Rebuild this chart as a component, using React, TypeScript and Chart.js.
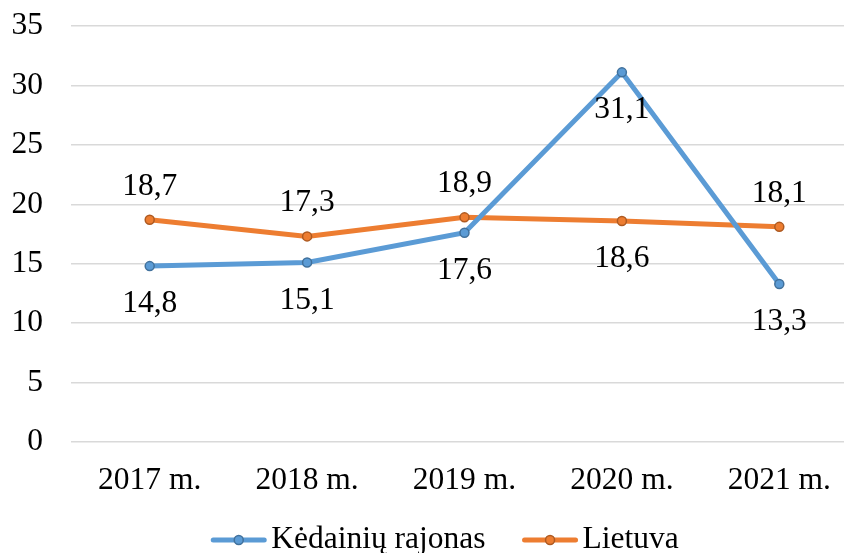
import React, { useEffect, useRef } from "react";
import { Chart, registerables } from "chart.js";

Chart.register(...registerables);

const categories = ["2017 m.", "2018 m.", "2019 m.", "2020 m.", "2021 m."];
const seriesNames = ["Kėdainių rajonas", "Lietuva"];
const kedainiaiValues = [14.8, 15.1, 17.6, 31.1, 13.3];
const lietuvaValues = [18.7, 17.3, 18.9, 18.6, 18.1];
const kedainiaiLabelPos = ["below", "below", "below", "below", "below"];
const lietuvaLabelPos = ["above", "above", "above", "below", "above"];
const yTicks = [0, 5, 10, 15, 20, 25, 30, 35];

const FONT_FAMILY = "'Liberation Serif', 'Times New Roman', serif";
const FONT_SIZE = 31.5;
const BLUE = "#5B9BD5";
const BLUE_DARK = "#41719C";
const ORANGE = "#ED7D31";
const ORANGE_DARK = "#AE5A21";

const fmt = (v: number) => v.toFixed(1).replace(".", ",");

const dataLabelPlugin = {
  id: "dataLabels",
  afterDatasetsDraw(chart: any) {
    const ctx = chart.ctx;
    const positions = [kedainiaiLabelPos, lietuvaLabelPos];
    ctx.save();
    ctx.font = `${FONT_SIZE}px ${FONT_FAMILY}`;
    ctx.fillStyle = "#000";
    ctx.textAlign = "center";
    ctx.textBaseline = "alphabetic";
    chart.data.datasets.forEach((ds: any, di: number) => {
      const meta = chart.getDatasetMeta(di);
      meta.data.forEach((pt: any, i: number) => {
        const pos = positions[di][i];
        const y = pos === "below" ? pt.y + 46 : pt.y - 25;
        ctx.fillText(fmt(ds.data[i]), pt.x, y);
      });
    });
    ctx.restore();
  },
};

const legendPlugin = {
  id: "customLegend",
  afterDraw(chart: any) {
    const ctx = chart.ctx;
    const colors = [
      [BLUE, BLUE_DARK],
      [ORANGE, ORANGE_DARK],
    ];
    ctx.save();
    ctx.font = `${FONT_SIZE}px ${FONT_FAMILY}`;
    const sampleW = 55;
    const textGap = 5;
    const itemGap = 37;
    const widths = seriesNames.map((n) => sampleW + textGap + ctx.measureText(n).width);
    const total = widths.reduce((a, b) => a + b, 0) + itemGap * (seriesNames.length - 1);
    let x = 445 - total / 2;
    const y = 540;
    seriesNames.forEach((name, i) => {
      const [c, d] = colors[i];
      ctx.strokeStyle = c;
      ctx.lineWidth = 5;
      ctx.lineCap = "round";
      ctx.beginPath();
      ctx.moveTo(x + 2, y);
      ctx.lineTo(x + sampleW - 2, y);
      ctx.stroke();
      ctx.beginPath();
      ctx.arc(x + sampleW / 2, y, 4.5, 0, Math.PI * 2);
      ctx.fillStyle = c;
      ctx.fill();
      ctx.lineWidth = 1.5;
      ctx.strokeStyle = d;
      ctx.stroke();
      ctx.fillStyle = "#000";
      ctx.textAlign = "left";
      ctx.textBaseline = "alphabetic";
      ctx.fillText(name, x + sampleW + textGap, y + 8);
      x += widths[i] + itemGap;
    });
    ctx.restore();
  },
};

export default function App() {
  const canvasRef = useRef<HTMLCanvasElement | null>(null);

  useEffect(() => {
    if (!canvasRef.current) return;
    const chart = new Chart(canvasRef.current, {
      type: "line",
      data: {
        labels: categories,
        datasets: [
          {
            label: seriesNames[0],
            data: kedainiaiValues,
            borderColor: BLUE,
            backgroundColor: BLUE,
            borderWidth: 5,
            pointRadius: 4.5,
            pointBorderWidth: 1.5,
            pointBorderColor: BLUE_DARK,
            pointBackgroundColor: BLUE,
            tension: 0,
          },
          {
            label: seriesNames[1],
            data: lietuvaValues,
            borderColor: ORANGE,
            backgroundColor: ORANGE,
            borderWidth: 5,
            pointRadius: 4.5,
            pointBorderWidth: 1.5,
            pointBorderColor: ORANGE_DARK,
            pointBackgroundColor: ORANGE,
            tension: 0,
          },
        ],
      },
      options: {
        animation: false,
        responsive: false,
        maintainAspectRatio: false,
        devicePixelRatio: 1,
        layout: { padding: { left: 0, right: 2, top: 26, bottom: 51 } },
        plugins: {
          legend: { display: false },
          tooltip: { enabled: false },
        },
        scales: {
          x: {
            offset: true,
            grid: { display: false, drawTicks: false },
            border: { display: false },
            ticks: {
              color: "#000",
              font: { family: FONT_FAMILY, size: FONT_SIZE },
              padding: 20,
              maxRotation: 0,
              autoSkip: false,
            },
            afterFit: (scale: any) => {
              scale.height = 60;
            },
          },
          y: {
            min: 0,
            max: 35,
            grid: { color: "#d9d9d9", lineWidth: 1.5, drawTicks: false },
            border: { display: false },
            afterBuildTicks: (scale: any) => {
              scale.ticks = yTicks.map((v) => ({ value: v }));
            },
            ticks: {
              color: "#000",
              font: { family: FONT_FAMILY, size: FONT_SIZE },
              padding: 28,
            },
            afterFit: (scale: any) => {
              scale.width = 71;
              scale.paddingTop = 0;
              scale.paddingBottom = 0;
            },
          },
        },
      },
      plugins: [dataLabelPlugin, legendPlugin],
    });
    return () => chart.destroy();
  }, []);

  return (
    <div
      style={{
        position: "fixed",
        left: 0,
        top: 0,
        width: 844,
        height: 553,
        overflow: "hidden",
        background: "#fff",
      }}
    >
      <canvas ref={canvasRef} width={864} height={553} style={{ display: "block", width: 864, height: 553 }} />
    </div>
  );
}
